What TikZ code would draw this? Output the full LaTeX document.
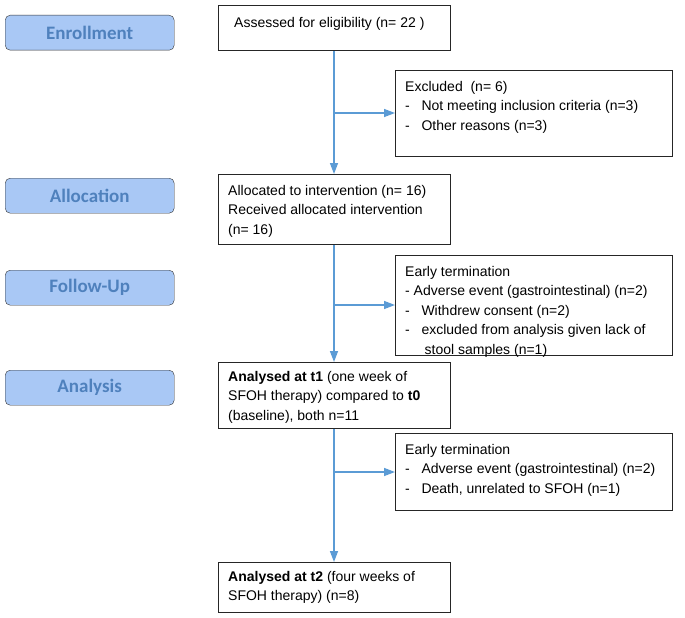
\documentclass[tikz,border=0pt]{standalone}
\usepackage{fontspec}
\setmainfont{Liberation Sans}
\newfontfamily\stagefont{Carlito}
\usetikzlibrary{arrows.meta}
\definecolor{lbfill}{HTML}{A9C8F5}
\definecolor{lbtext}{HTML}{4F81BD}
\definecolor{ln}{HTML}{5B9BD5}
\begin{document}
\begin{tikzpicture}[x=1pt,y=-1pt,
 stage/.style={draw=black!80,fill=lbfill,rounded corners=5pt,minimum width=169pt,minimum height=35pt,font=\stagefont\bfseries\fontsize{19}{21}\selectfont,text=lbtext,anchor=north west},
 box/.style={draw=black!85,line width=0.8pt,anchor=north west,inner sep=0pt},
 txt/.style={anchor=north west,align=left,font=\fontsize{14}{19.5}\selectfont,inner sep=0pt},
 flow/.style={draw=ln,line width=1.4pt,-{Triangle[length=11pt,width=8pt]}}]
\useasboundingbox (0,0) rectangle (685,618);
\node[stage] (s1) at (5,15) {Enrollment};
\node[stage] (s2) at (5,178) {Allocation};
\node[stage] (s3) at (5,270) {Follow-Up};
\node[stage] (s4) at (5,370) {Analysis};

\node[box,minimum width=232pt,minimum height=45pt] (a) at (218,5) {};
\node[txt] (at) at (234,17) {Assessed for eligibility (n= 22 )};
\node[box,minimum width=277pt,minimum height=86pt] (e1) at (395,70) {};
\node[txt] (e1t) at (405,81) {Excluded\ \ (n= 6)\\-\ \ \ Not meeting inclusion criteria (n=3)\\-\ \ \ Other reasons (n=3)};
\node[box,minimum width=232pt,minimum height=70pt] (b) at (218,174) {};
\node[txt] (bt) at (228,185) {Allocated to intervention (n= 16)\\Received allocated intervention\\(n= 16)};
\node[box,minimum width=277pt,minimum height=100pt] (e2) at (395,255) {};
\node[txt] (e2t) at (405,266) {Early termination\\- Adverse event (gastrointestinal) (n=2)\\-\ \ \ Withdrew consent (n=2)\\-\ \ \ excluded from analysis given lack of\\\ \ \ \ \ stool samples (n=1)};
\node[box,minimum width=232pt,minimum height=66pt] (c) at (218,362) {};
\node[txt] (ct) at (228,371) {\textbf{Analysed at t1} (one week of\\SFOH therapy) compared to \textbf{t0}\\(baseline), both n=11};
\node[box,minimum width=277pt,minimum height=77pt] (e3) at (395,433) {};
\node[txt] (e3t) at (405,444) {Early termination\\-\ \ \ Adverse event (gastrointestinal) (n=2)\\-\ \ \ Death, unrelated to SFOH (n=1)};
\node[box,minimum width=232pt,minimum height=50pt] (d) at (218,562) {};
\node[txt] (dt) at (228,571) {\textbf{Analysed at t2} (four weeks of\\SFOH therapy) (n=8)};

\coordinate (j1) at (334,113);
\coordinate (j2) at (334,305);
\coordinate (j3) at (334,472);
\draw[flow] (a.south -| j1) -- (b.north -| j1);
\draw[flow] (j1) -- (j1 -| e1.west);
\draw[flow] (b.south -| j2) -- (c.north -| j2);
\draw[flow] (j2) -- (j2 -| e2.west);
\draw[flow] (c.south -| j3) -- (d.north -| j3);
\draw[flow] (j3) -- (j3 -| e3.west);
\end{tikzpicture}
\end{document}
